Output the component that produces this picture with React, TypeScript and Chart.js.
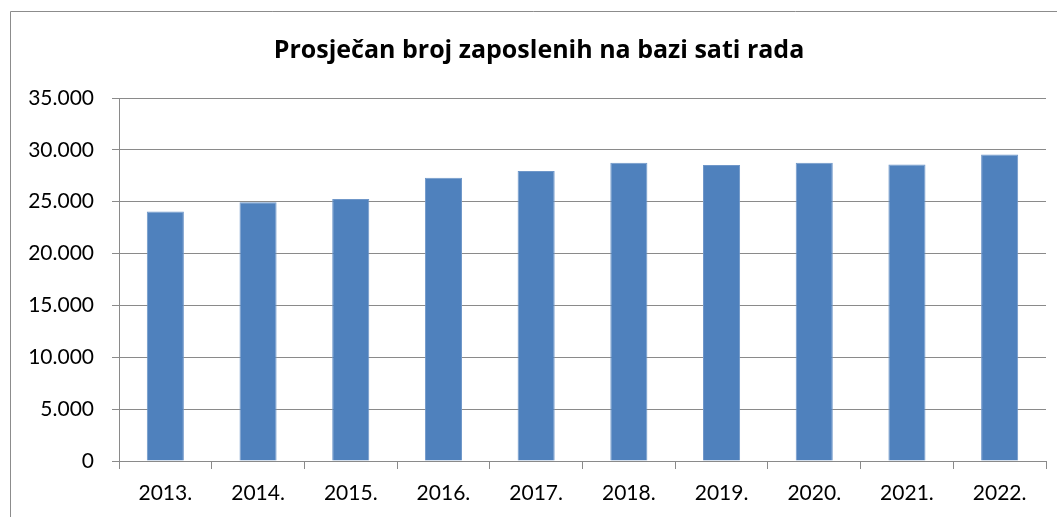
import React, { useEffect, useRef } from "react";
import { Chart, registerables } from "chart.js";

Chart.register(...registerables);

const TITLE = "Prosječan broj zaposlenih na bazi sati rada";
const years = ["2013.", "2014.", "2015.", "2016.", "2017.", "2018.", "2019.", "2020.", "2021.", "2022."];
const employees = [24050, 24950, 25250, 27300, 27950, 28750, 28550, 28750, 28600, 29550];
const yMin = 0;
const yMax = 35000;
const yStep = 5000;

const FONT = "Lato, 'Open Sans', sans-serif";
const TITLE_FONT = "'Open Sans', Lato, sans-serif";
const GRID = "#8a8a8a";

function fmt(v: number): string {
  return String(Math.round(v)).replace(/\B(?=(\d{3})+(?!\d))/g, ".");
}

const framePlugin = {
  id: "frame",
  beforeDraw(chart: any) {
    const ctx = chart.ctx;
    ctx.save();
    ctx.fillStyle = "#ffffff";
    ctx.fillRect(0, 0, chart.width, chart.height);
    ctx.strokeStyle = "#8c8c8c";
    ctx.lineWidth = 1;
    ctx.beginPath();
    ctx.moveTo(10.5, chart.height);
    ctx.lineTo(10.5, 11.5);
    ctx.lineTo(chart.width, 11.5);
    ctx.stroke();
    ctx.restore();
  },
  afterDraw(chart: any) {
    const ctx = chart.ctx;
    ctx.save();
    ctx.fillStyle = "#000000";
    ctx.font = `bold 25px ${TITLE_FONT}`;
    ctx.textAlign = "center";
    ctx.textBaseline = "alphabetic";
    ctx.fillText(TITLE, 539, 58);
    ctx.restore();
  },
};

export default function App() {
  const ref = useRef<HTMLCanvasElement | null>(null);
  useEffect(() => {
    if (!ref.current) return;
    const chart = new Chart(ref.current, {
      type: "bar",
      data: {
        labels: years,
        datasets: [
          {
            data: employees,
            backgroundColor: "#4F81BD",
            borderColor: "#6F97C9",
            borderWidth: 1,
            barPercentage: 0.4,
            categoryPercentage: 1,
          },
        ],
      },
      options: {
        animation: false,
        responsive: false,
        maintainAspectRatio: false,
        layout: { padding: { left: 0, top: 98, right: 11, bottom: 0 } },
        plugins: {
          legend: { display: false },
          title: { display: false },
          tooltip: { enabled: false },
        },
        scales: {
          x: {
            offset: true,
            grid: {
              offset: true,
              drawOnChartArea: false,
              drawTicks: true,
              tickLength: 8,
              color: GRID,
              lineWidth: 1,
            },
            border: { display: true, color: GRID, width: 1 },
            ticks: {
              color: "#000000",
              font: { family: FONT, size: 21 },
              padding: 12,
              maxRotation: 0,
              autoSkip: false,
            },
            afterFit(scale: any) {
              scale.height = 56;
            },
          },
          y: {
            min: yMin,
            max: yMax,
            grid: {
              color: GRID,
              lineWidth: 1,
              drawTicks: true,
              tickLength: 7,
            },
            border: { display: true, color: GRID, width: 1 },
            ticks: {
              stepSize: yStep,
              color: "#000000",
              font: { family: FONT, size: 21 },
              padding: 18,
              callback: (v: any) => fmt(Number(v)),
            },
            afterFit(scale: any) {
              scale.width = 119;
            },
          },
        },
      },
      plugins: [framePlugin],
    });
    return () => chart.destroy();
  }, []);
  return (
    <canvas
      ref={ref}
      width={1057}
      height={517}
      style={{ position: "absolute", left: 0, top: 0, width: 1057, height: 517 }}
    />
  );
}
